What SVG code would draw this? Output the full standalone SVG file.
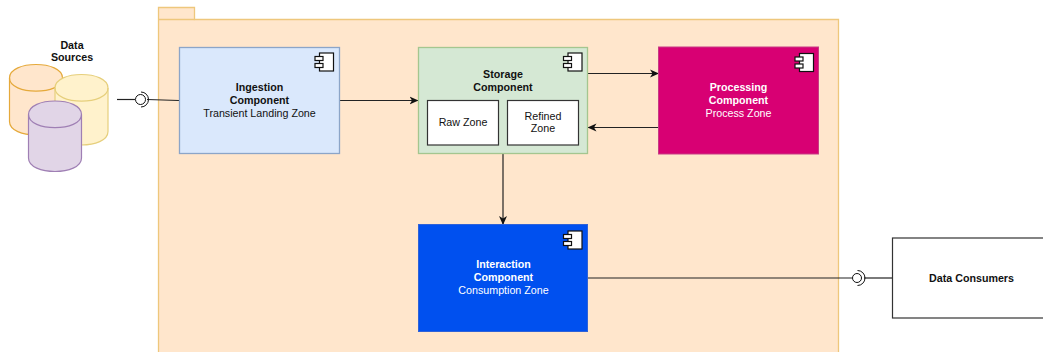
<svg xmlns="http://www.w3.org/2000/svg" width="1043" height="352" viewBox="0 0 1043 352">
<style>
text{font-family:"Liberation Sans",Arial,sans-serif;font-size:10.700px;text-anchor:middle;fill:#111}
.b{font-weight:bold}.w{fill:#fff}
.conn{fill:none;stroke:#222;stroke-width:1.200}
.ic{fill:#fff;stroke:#111;stroke-width:1.200}
</style>
<defs>
<marker id="arrow" markerUnits="userSpaceOnUse" markerWidth="11" markerHeight="11" refX="9" refY="5" orient="auto"><path d="M0 1L9 5L0 9L2.500 5Z" fill="#111"/></marker>
<g id="icon"><rect x="4.500" y="0" width="14" height="18" class="ic"/><rect x="0" y="3.500" width="8" height="4" class="ic"/><rect x="0" y="10.500" width="8" height="4" class="ic"/></g>
<g id="cyl"><path d="M0 13.500C0 -4.500 53 -4.500 53 13.500V57C53 75 0 75 0 57Z"/><path fill="none" d="M0 13.500C0 31 53 31 53 13.500"/></g>
</defs>
<g id="package"><path d="M158.500 19.500V7.500H194.500V19.500H838.500V360H158.500Z" fill="#ffe6cc" stroke="#eec77c" stroke-width="1.300"/><path d="M158.500 19.500H194.500" fill="none" stroke="#eec77c" stroke-width="1.300"/></g>
<g id="connectors">
<path class="conn" d="M117 99.500H135"/>
<path class="conn" d="M147 99.500L179 100.500"/>
<path class="conn" d="M339 100.500H418.500" marker-end="url(#arrow)"/>
<path class="conn" d="M588 73.500H659" marker-end="url(#arrow)"/>
<path class="conn" d="M658 127.500H587.500" marker-end="url(#arrow)"/>
<path class="conn" d="M503 154V225" marker-end="url(#arrow)"/>
<path class="conn" d="M588 278H852"/>
<path class="conn" d="M864 278H892"/>
<g fill="none" stroke="#111" stroke-width="1"><circle cx="140.500" cy="99.500" r="5" fill="#fff"/><path d="M141 92A7.500 7.500 0 0 1 141 107"/><circle cx="857" cy="278" r="4.500" fill="#fff"/><path d="M857.500 270.500A7.500 7.500 0 0 1 857.500 285.500"/></g>
</g>
<g id="data-sources">
<use href="#cyl" x="9.500" y="64.500" fill="#ffe6cc" stroke="#e5a93a" stroke-width="1.200"/>
<use href="#cyl" x="55" y="74.500" fill="#fff2cc" stroke="#e6cf7c" stroke-width="1.200"/>
<use href="#cyl" x="28.500" y="101" fill="#e1d5e7" stroke="#9f7fb4" stroke-width="1.200"/>
<text class="b" x="72" y="49">Data</text><text class="b" x="72" y="61">Sources</text>
</g>
<g id="ingestion"><rect x="179.500" y="47.500" width="160" height="106" fill="#dae8fc" stroke="#8ca5c8" stroke-width="1.300"/><use href="#icon" x="315" y="53"/>
<text class="b" x="259.500" y="91">Ingestion</text><text class="b" x="259.500" y="104">Component</text><text x="259.500" y="117">Transient Landing Zone</text></g>
<g id="storage"><rect x="418.500" y="47.500" width="169" height="106" fill="#d5e8d4" stroke="#a4c68f" stroke-width="1.300"/><use href="#icon" x="563.500" y="53"/>
<text class="b" x="503" y="78">Storage</text><text class="b" x="503" y="90.500">Component</text></g>
<g id="raw-zone"><rect x="427.500" y="100.500" width="71" height="44.500" fill="#fff" stroke="#333" stroke-width="1.200"/><text x="463" y="125.500">Raw Zone</text></g>
<g id="refined-zone"><rect x="507.500" y="100.500" width="71" height="44.500" fill="#fff" stroke="#333" stroke-width="1.200"/><text x="543" y="120">Refined</text><text x="543" y="132">Zone</text></g>
<g id="processing"><rect x="658.500" y="47" width="160" height="107" fill="#d80073" stroke="#c73b84"/><use href="#icon" x="795" y="53.500"/>
<text class="b w" x="738.500" y="91">Processing</text><text class="b w" x="738.500" y="104">Component</text><text class="w" x="738.500" y="117">Process Zone</text></g>
<g id="interaction"><rect x="418.500" y="224.500" width="169" height="107" fill="#0050ef" stroke="#2e62d8"/><use href="#icon" x="563.500" y="231"/>
<text class="b w" x="503.500" y="268">Interaction</text><text class="b w" x="503.500" y="281">Component</text><text class="w" x="503.500" y="294">Consumption Zone</text></g>
<g id="data-consumers"><rect x="892.500" y="238" width="160" height="80" fill="#fff" stroke="#333" stroke-width="1.200"/><text class="b" x="971.500" y="281.500">Data Consumers</text></g>
</svg>
